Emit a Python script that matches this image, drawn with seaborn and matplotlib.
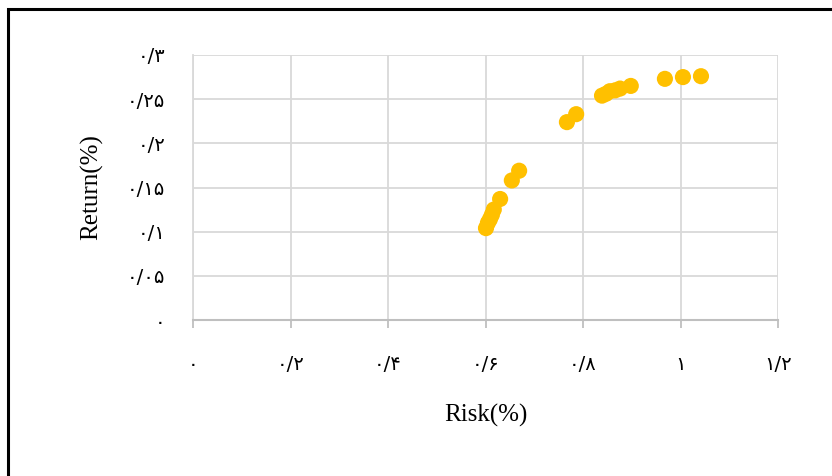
import matplotlib
matplotlib.use("Agg")
import matplotlib.pyplot as plt
import matplotlib.patches as mpatches
import seaborn as sns
import pandas as pd

# risk / return points
risk = [0.601, 0.605, 0.609, 0.613, 0.617, 0.630, 0.654, 0.669,
        0.767, 0.786, 0.839, 0.847, 0.855, 0.866, 0.876, 0.898,
        0.968, 1.005, 1.042]
ret = [0.104, 0.110, 0.114, 0.119, 0.125, 0.137, 0.158, 0.169,
       0.224, 0.233, 0.254, 0.256, 0.259, 0.260, 0.262, 0.265,
       0.273, 0.275, 0.276]

x_ticks = [0, 0.2, 0.4, 0.6, 0.8, 1.0, 1.2]
x_tick_labels = ["۰", "۰/۲", "۰/۴", "۰/۶", "۰/۸", "۱", "۱/۲"]
y_ticks = [0, 0.05, 0.1, 0.15, 0.2, 0.25, 0.3]
y_tick_labels = ["۰", "۰/۰۵", "۰/۱", "۰/۱۵", "۰/۲", "۰/۲۵", "۰/۳"]

df = pd.DataFrame({"Risk": risk, "Return": ret})

sns.set_style("white")
plt.rcParams['font.family'] = ['Liberation Serif', 'DejaVu Sans']
plt.rcParams['text.color'] = 'black'
plt.rcParams['axes.labelcolor'] = 'black'
plt.rcParams['xtick.color'] = 'black'
plt.rcParams['ytick.color'] = 'black'

fig = plt.figure(figsize=(8.32, 4.76), dpi=100)
ax = fig.add_axes([193/832, 1-320/476, 585/832, 265/476])

grid_c = "#D9D9D9"
ax.grid(True, color=grid_c, linewidth=1.3)
ax.set_axisbelow(True)

sns.scatterplot(data=df, x="Risk", y="Return", color="#FFC000", s=135,
                edgecolor="none", ax=ax, zorder=3)

ax.set_xlim(0, 1.2)
ax.set_ylim(0, 0.3)
ax.set_xticks(x_ticks)
ax.set_xticklabels(x_tick_labels, family=['DejaVu Sans'], fontsize=14)
ax.set_yticks(y_ticks)
ax.set_yticklabels(y_tick_labels, family=['DejaVu Sans'], fontsize=14)

for s in ["top", "right"]:
    ax.spines[s].set_visible(False)
ax.spines["left"].set_color(grid_c)
ax.spines["left"].set_linewidth(1.3)
ax.spines["bottom"].set_color("#BFBFBF")
ax.spines["bottom"].set_linewidth(1.5)
ax.tick_params(axis="x", direction="out", length=6, width=1.3, color="#BFBFBF",
               labelcolor="black", pad=19, bottom=True)
ax.tick_params(axis="y", length=0, pad=20, left=True, labelcolor="black")

ax.set_xlabel("Risk(%)", fontsize=18, labelpad=22)
ax.set_ylabel("Return(%)", fontsize=18, labelpad=17)

# black frame around the chart area (cut at right and bottom)
frame = mpatches.Rectangle((8/832, -0.1), 1.2, 1.1 - 9/476, transform=fig.transFigure,
                           fill=False, edgecolor="black", linewidth=2.2, clip_on=False)
fig.patches.append(frame)

fig.savefig("out.png", dpi=100)
